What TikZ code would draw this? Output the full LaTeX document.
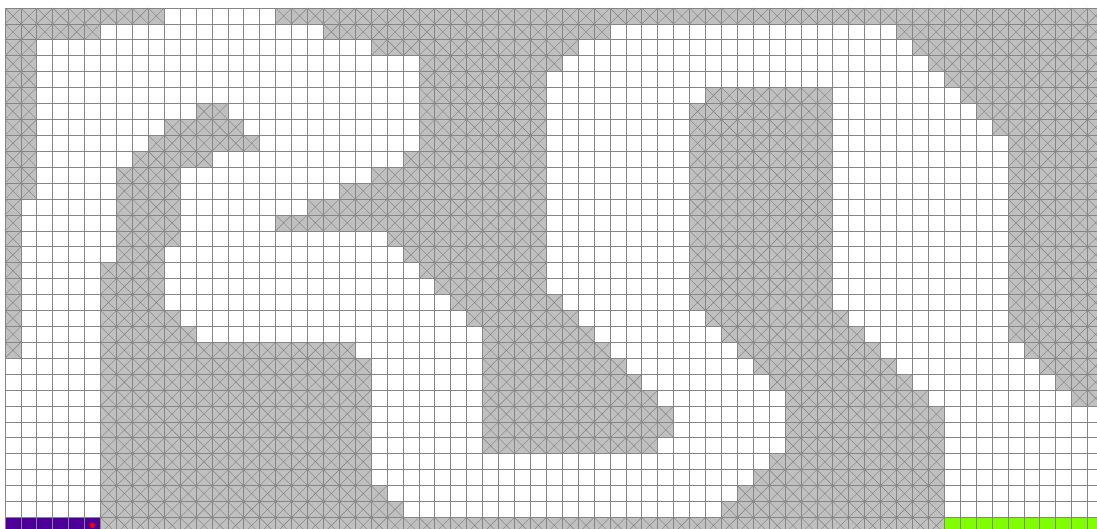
\documentclass[tikz,border=0pt]{standalone}
\definecolor{obst}{RGB}{192,192,192}
\definecolor{startc}{RGB}{76,0,153}
\definecolor{goalc}{RGB}{127,255,0}
\tikzset{
  xline/.style={draw=black!50, line width=0.4pt},
  gridl/.style={draw=black!48, line width=0.75pt},
}
\begin{document}
\begin{tikzpicture}[x=1pt,y=-1pt]
\useasboundingbox (0,0) rectangle (1097,529);
\clip (0,0) rectangle (1097,529);
\fill[white] (0,0) rectangle (1097,529);
\def\cw{15.92}
% obstacles
\foreach \r/\a/\b in {
0/0/9, 0/17/68,
1/0/5, 1/20/37, 1/56/68,
2/0/1, 2/23/35, 2/57/68,
3/0/1, 3/26/34, 3/58/68,
4/0/1, 4/26/33, 4/59/68,
5/0/1, 5/26/33, 5/44/51, 5/60/68,
6/0/1, 6/12/13, 6/26/33, 6/43/51, 6/61/68,
7/0/1, 7/10/14, 7/26/33, 7/43/51, 7/62/68,
8/0/1, 8/9/15, 8/26/33, 8/43/51, 8/63/68,
9/0/1, 9/8/12, 9/25/33, 9/43/51, 9/63/68,
10/0/1, 10/7/10, 10/23/33, 10/43/51, 10/63/68,
11/0/1, 11/7/10, 11/21/33, 11/43/51, 11/63/68,
12/0/0, 12/7/10, 12/19/33, 12/43/51, 12/63/68,
13/0/0, 13/7/10, 13/17/33, 13/43/51, 13/63/68,
14/0/0, 14/7/10, 14/24/33, 14/43/51, 14/63/68,
15/0/0, 15/7/9, 15/25/33, 15/43/51, 15/63/68,
16/0/0, 16/6/9, 16/26/33, 16/43/51, 16/63/68,
17/0/0, 17/6/9, 17/27/33, 17/43/51, 17/63/68,
18/0/0, 18/6/9, 18/28/34, 18/43/51, 18/63/68,
19/0/0, 19/6/10, 19/29/35, 19/44/52, 19/63/68,
20/0/0, 20/6/11, 20/30/36, 20/45/53, 20/63/68,
21/0/0, 21/6/21, 21/30/37, 21/46/54, 21/64/68,
22/6/22, 22/30/38, 22/47/55, 22/65/68,
23/6/22, 23/30/39, 23/48/56, 23/66/68,
24/6/22, 24/30/40, 24/49/57, 24/67/68,
25/6/22, 25/30/41, 25/49/58,
26/6/22, 26/30/41, 26/49/58,
27/6/22, 27/30/40, 27/49/58,
28/6/22, 28/48/58,
29/6/22, 29/47/58,
30/6/23, 30/46/58,
31/6/24, 31/45/58,
32/6/58} {
  \fill[obst] ({5+\a*\cw},{8+\r*\cw}) rectangle ({5+(\b+1)*\cw},{8+(\r+1)*\cw});
  \foreach \c in {\a,...,\b} {
    \draw[xline] ({5+\c*\cw},{8+\r*\cw}) -- ++(\cw,\cw)
                 ({5+(\c+1)*\cw},{8+\r*\cw}) -- ++(-\cw,\cw);
  }
}
% start and goal cells
\fill[startc] (5,{8+32*\cw}) rectangle ({5+6*\cw},{8+33*\cw});
\fill[goalc] ({5+59*\cw},{8+32*\cw}) rectangle ({5+69*\cw},{8+33*\cw});
% grid
\foreach \i in {0,...,69} {
  \draw[gridl] ({5+\i*\cw},8) -- ({5+\i*\cw},{8+33*\cw});
}
\foreach \j in {0,...,33} {
  \draw[gridl] (5,{8+\j*\cw}) -- ({5+69*\cw},{8+\j*\cw});
}
% agent
\fill[red] ({5+5.5*\cw},{8+32.5*\cw}) circle (2.6);
\end{tikzpicture}
\end{document}
